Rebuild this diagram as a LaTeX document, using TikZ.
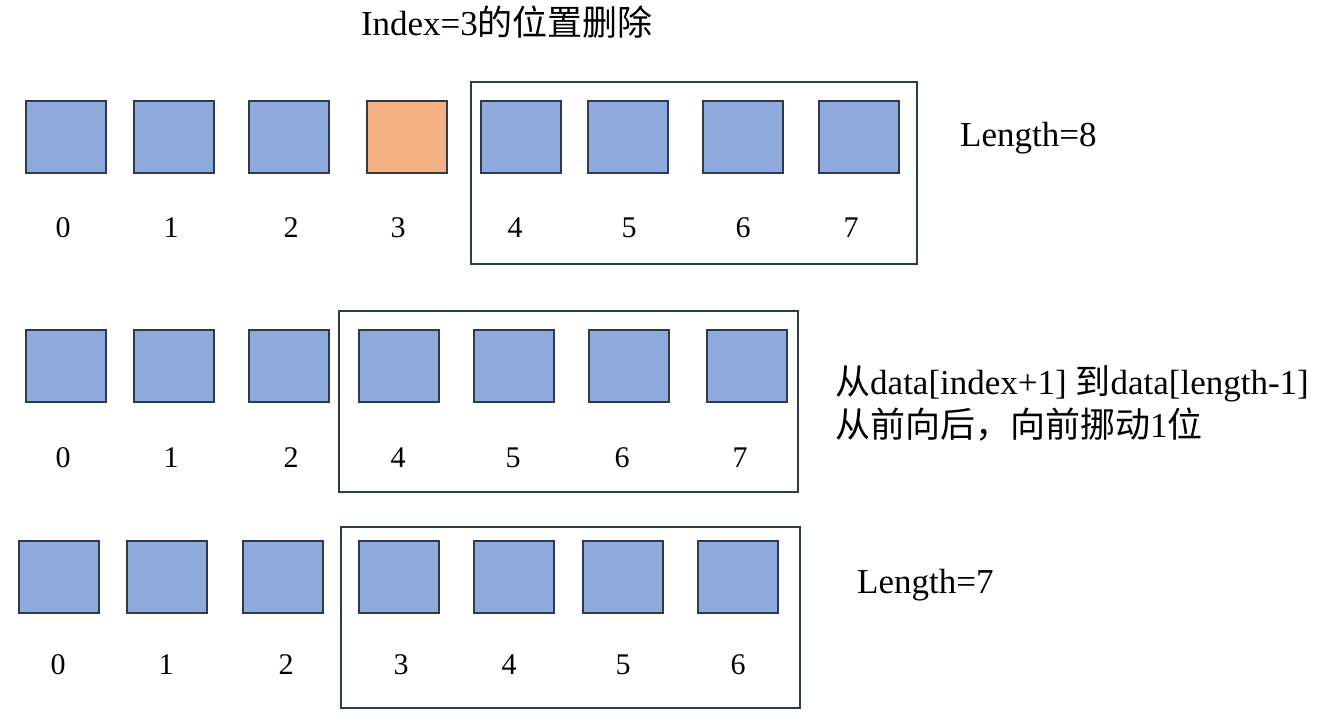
\documentclass[tikz,border=0pt]{standalone}
\usepackage{fontspec}
\setmainfont{Liberation Serif}
\newfontfamily\cjk{Noto Sans CJK SC}
\definecolor{cellblue}{HTML}{8FAADC}
\definecolor{cellorange}{HTML}{F4B183}
\definecolor{edge}{HTML}{2F3B4D}
\tikzset{
  cell/.style={draw=edge, line width=1.5pt, fill=cellblue, minimum width=80pt, minimum height=72pt, inner sep=0pt, anchor=north west},
  delcell/.style={cell, fill=cellorange},
  idx/.style={font=\fontsize{30}{36}\selectfont, inner sep=0pt},
  note/.style={font=\fontsize{35}{43}\selectfont, anchor=west, inner sep=0pt, align=left},
  frame/.style={draw=edge, line width=1.5pt}
}
\begin{document}
\begin{tikzpicture}[x=1pt, y=-1pt]
\useasboundingbox (0,0) rectangle (1329,726);
% Title
    \node[note, anchor=center] (title) at (507,22) {Index=3{\cjk 的位置删除}};
% Row 1: before deletion
    \foreach \n/\x/\l in {0/25/63, 1/133/171, 2/248/291, 4/480/515, 5/587/629, 6/702/743, 7/818/851} {
        \node[cell] (a\n) at (\x,100) {};
        \node[idx] (ai\n) at (\l,228) {\n};
    }
    \node[delcell] (a3) at (366,100) {};
    \node[idx] (ai3) at (398,228) {3};
    \draw[frame] (471,82) rectangle (917,264);
    \node[note] (len8) at (960,138) {Length=8};
% Row 2: shifting
    \foreach \n/\x/\l in {0/25/63, 1/133/171, 2/248/291, 4/358/398, 5/473/513, 6/588/622, 7/706/740} {
        \node[cell] (b\n) at (\x,329) {};
        \node[idx] (bi\n) at (\l,458) {\n};
    }
    \draw[frame] (339,311) rectangle (798,492);
    \node[note] (move) at (835,403) {{\cjk 从}data[index+1] {\cjk 到}data[length-1]\\{\cjk 从前向后，向前挪动}1{\cjk 位}};
% Row 3: after deletion
    \foreach \n/\x/\l in {0/18/58, 1/126/166, 2/242/286, 3/358/401, 4/473/509, 5/582/623, 6/697/738} {
        \node[cell] (c\n) at (\x,540) {};
        \node[idx] (ci\n) at (\l,665) {\n};
    }
    \draw[frame] (341,527) rectangle (800,708);
    \node[note] (len7) at (857,585) {Length=7};
\end{tikzpicture}
\end{document}
